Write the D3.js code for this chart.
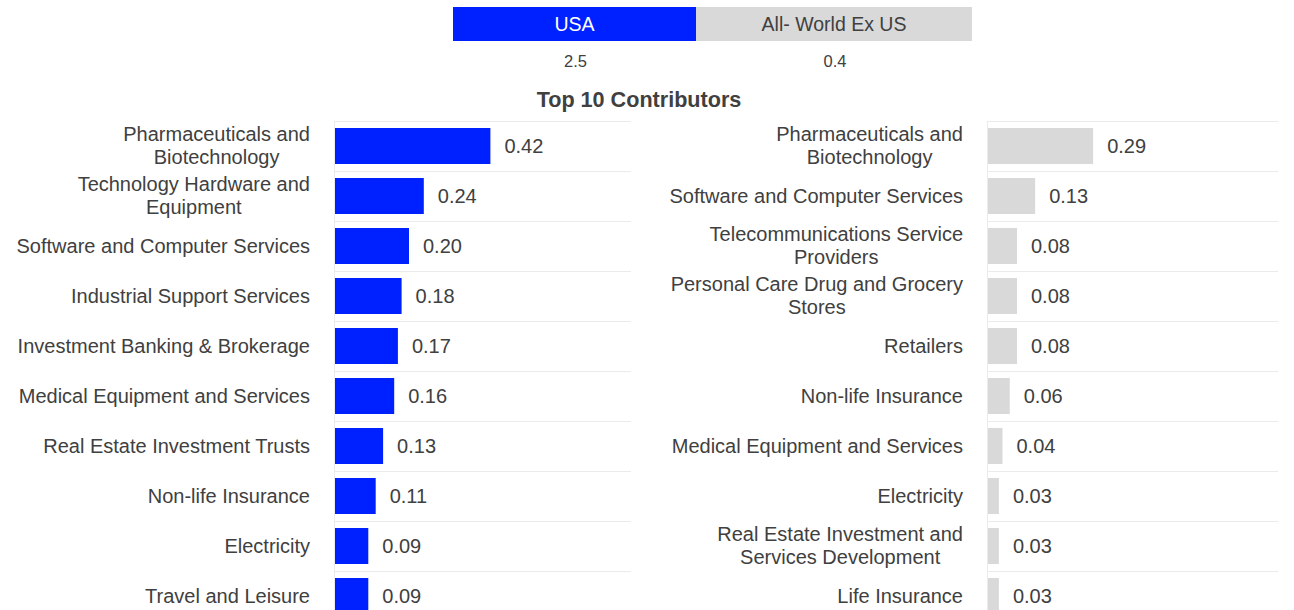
<!DOCTYPE html>
<html>
<head>
<meta charset="utf-8">
<script src="https://cdn.jsdelivr.net/npm/d3@7"></script>
<style>
  html, body { margin: 0; padding: 0; background: #ffffff; }
  svg { display: block; font-family: "Liberation Sans", Arial, sans-serif; }
</style>
</head>
<body>
<svg id="chart" width="1294" height="610"></svg>
<script>
// Region totals shown in the header strip
const regionNames = ["USA", "All- World Ex US"];
const regionTotals = [2.5, 0.4];

// Top 10 contributors, USA
const usCategories = [
  "Pharmaceuticals and Biotechnology",
  "Technology Hardware and Equipment",
  "Software and Computer Services",
  "Industrial Support Services",
  "Investment Banking & Brokerage",
  "Medical Equipment and Services",
  "Real Estate Investment Trusts",
  "Non-life Insurance",
  "Electricity",
  "Travel and Leisure"
];
const usValues = [0.42, 0.24, 0.20, 0.18, 0.17, 0.16, 0.13, 0.11, 0.09, 0.09];

// Top 10 contributors, World ex US
const exUsCategories = [
  "Pharmaceuticals and Biotechnology",
  "Software and Computer Services",
  "Telecommunications Service Providers",
  "Personal Care Drug and Grocery Stores",
  "Retailers",
  "Non-life Insurance",
  "Medical Equipment and Services",
  "Electricity",
  "Real Estate Investment and Services Development",
  "Life Insurance"
];
const exUsValues = [0.29, 0.13, 0.08, 0.08, 0.08, 0.06, 0.04, 0.03, 0.03, 0.03];

const title = "Top 10 Contributors";

// Styling
const BLUE = "#0021ff";
const GREY = "#d9d9d9";
const TEXT = "#404040";
const GRID = "#ebebeb";
const FONT_SIZE = 20;

const svg = d3.select("#chart");

// ---- Header strip ----
const headerEdges = [453, 696, 972];
const headerFills = [BLUE, GREY];
const headerText = ["#ffffff", TEXT];
const header = svg.append("g");
regionNames.forEach((name, i) => {
  const x0 = headerEdges[i], x1 = headerEdges[i + 1];
  const cx = (x0 + x1) / 2;
  header.append("rect")
    .attr("x", x0).attr("y", 7)
    .attr("width", x1 - x0).attr("height", 34)
    .attr("fill", headerFills[i]);
  header.append("text")
    .attr("x", cx).attr("y", 31)
    .attr("text-anchor", "middle")
    .attr("font-size", 19.5)
    .attr("fill", headerText[i])
    .text(name);
  header.append("text")
    .attr("x", cx + 1).attr("y", 67)
    .attr("text-anchor", "middle")
    .attr("font-size", 16.5)
    .attr("fill", TEXT)
    .text(d3.format(".1f")(regionTotals[i]));
});

svg.append("text")
  .attr("x", 639).attr("y", 107)
  .attr("text-anchor", "middle")
  .attr("font-size", 21.6)
  .attr("font-weight", "bold")
  .attr("fill", TEXT)
  .text(title);

// Measure text so long category names can be wrapped
const measurer = svg.append("text")
  .attr("font-size", FONT_SIZE)
  .attr("visibility", "hidden");
function textWidth(s) {
  measurer.text(s);
  return measurer.node().getComputedTextLength();
}
function wrap(label, maxWidth) {
  const words = label.split(" ");
  const lines = [];
  let line = "";
  words.forEach(w => {
    const trial = line ? line + " " + w : w;
    if (line && textWidth(trial) > maxWidth) {
      lines.push(line);
      line = w;
    } else {
      line = trial;
    }
  });
  if (line) lines.push(line);
  return lines;
}

// ---- Panel drawing ----
function drawPanel(cfg) {
  const { categories, values, color, plotLeft, plotRight, labelRight } = cfg;
  const g = svg.append("g");

  const y = d3.scaleBand()
    .domain(categories)
    .range([121, 621])
    .paddingInner(0.28)
    .paddingOuter(0.14);
  const step = y.step();

  const x = d3.scaleLinear()
    .domain([0, 0.8])
    .range([plotLeft, plotRight]);

  // horizontal row separators
  const boundaries = d3.range(categories.length + 1).map(i => 121 + i * step);
  g.selectAll("line.grid")
    .data(boundaries)
    .join("line")
    .attr("class", "grid")
    .attr("x1", plotLeft - 1).attr("x2", plotRight)
    .attr("y1", d => d + 0.5).attr("y2", d => d + 0.5)
    .attr("stroke", GRID).attr("stroke-width", 1);

  // category axis line
  g.append("line")
    .attr("x1", plotLeft - 0.5).attr("x2", plotLeft - 0.5)
    .attr("y1", 121).attr("y2", 621)
    .attr("stroke", GRID).attr("stroke-width", 1);

  // bars
  g.selectAll("rect.bar")
    .data(values)
    .join("rect")
    .attr("class", "bar")
    .attr("x", x(0))
    .attr("y", (d, i) => y(categories[i]))
    .attr("width", d => x(d) - x(0))
    .attr("height", y.bandwidth())
    .attr("fill", color);

  // value labels
  g.selectAll("text.value")
    .data(values)
    .join("text")
    .attr("class", "value")
    .attr("x", d => x(d) + 14)
    .attr("y", (d, i) => y(categories[i]) + y.bandwidth() / 2 + 7)
    .attr("font-size", FONT_SIZE)
    .attr("fill", TEXT)
    .text(d => d3.format(".2f")(d));

  // category labels (wrapped, block right-aligned, lines centred)
  categories.forEach(cat => {
    const lines = wrap(cat, 300);
    const widths = lines.map(textWidth);
    const maxW = d3.max(widths);
    const cy = y(cat) + y.bandwidth() / 2;
    const lineH = 23;
    const t = g.append("text")
      .attr("font-size", FONT_SIZE)
      .attr("fill", TEXT)
      .attr("text-anchor", lines.length > 1 ? "middle" : "end");
    lines.forEach((ln, k) => {
      const base = cy - (lines.length - 1) * lineH / 2 + k * lineH + 6.5;
      t.append("tspan")
        .attr("x", lines.length > 1 ? labelRight - maxW / 2 : labelRight)
        .attr("y", base)
        .text(ln);
    });
  });
}

drawPanel({
  categories: usCategories,
  values: usValues,
  color: BLUE,
  plotLeft: 335,
  plotRight: 631,
  labelRight: 310
});

drawPanel({
  categories: exUsCategories,
  values: exUsValues,
  color: GREY,
  plotLeft: 988,
  plotRight: 1278,
  labelRight: 963
});

measurer.remove();
</script>
</body>
</html>
